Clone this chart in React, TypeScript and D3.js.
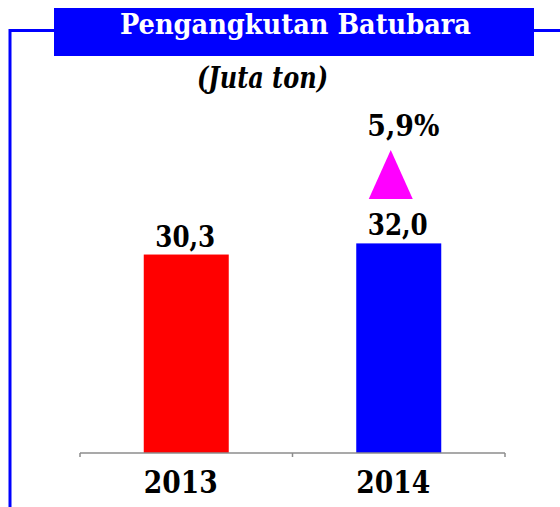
import React from "react";
import * as d3 from "d3";

// Chart data
const years = ["2013", "2014"];
const values = [30.3, 32.0];
const valueLabels = ["30,3", "32,0"];
const barColors = ["#ff0000", "#0000ff"];
const growthLabel = "5,9%";

const title = "Pengangkutan Batubara";
const unit = "(Juta ton)";

// Canvas size
const width = 560;
const height = 507;

// Plot area
const margin = { left: 80, right: 55, baseline: 453 };

const serif = "'DejaVu Serif', 'Liberation Serif', serif";

export default function App() {
    // x scale: one band per year
    const x = d3.scaleBand()
        .domain(years)
        .range([margin.left, width - margin.right]);

    // y scale: 0..35 maps onto the bar heights
    const y = d3.scaleLinear()
        .domain([0, 35])
        .range([margin.baseline, margin.baseline - 35 * 6.55]);

    const barWidth = x.bandwidth() * 0.4;
    const cx = (d: string) => (x(d) as number) + x.bandwidth() / 2;

    // triangle above the 2014 bar
    const last = years[years.length - 1];
    const triX = cx(last) - 8;
    const triBottom = 199;
    const triPath = d3.line()([
        [triX - 22, triBottom],
        [triX, triBottom - 49],
        [triX + 22, triBottom],
    ]) + "Z";

    return (
        <svg
            width={width}
            height={height}
            style={{ position: "absolute", top: 0, left: 0, background: "#fff" }}
        >
            {/* bracket lines */}
            <path
                d={`M10,${height} V30.5 H54`}
                fill="none"
                stroke="#0000ff"
                strokeWidth={3}
            />
            <path d={`M534,30.5 H${width}`} fill="none" stroke="#0000ff" strokeWidth={3} />

            {/* title box */}
            <rect x={54} y={8} width={480} height={48} fill="#0000ff" />
            <text
                x={295.5}
                y={33.5}
                textAnchor="middle"
                fill="#fff"
                fontFamily={serif}
                fontWeight="bold"
                fontSize={27.5}
                textLength={351}
                lengthAdjust="spacingAndGlyphs"
            >
                {title}
            </text>

            {/* unit */}
            <text
                x={262.5}
                y={88}
                textAnchor="middle"
                fill="#000"
                fontFamily={serif}
                fontWeight="bold"
                fontStyle="italic"
                fontSize={29}
                textLength={131}
                lengthAdjust="spacingAndGlyphs"
            >
                {unit}
            </text>

            {/* bars */}
            {years.map((d, i) => (
                <rect
                    key={d}
                    x={cx(d) - barWidth / 2}
                    y={y(values[i])}
                    width={barWidth}
                    height={y(0) - y(values[i])}
                    fill={barColors[i]}
                />
            ))}

            {/* value labels */}
            {years.map((d, i) => (
                <text
                    key={d}
                    x={cx(d) - 1}
                    y={y(values[i]) - 8}
                    textAnchor="middle"
                    fontFamily={serif}
                    fontWeight="bold"
                    fontSize={29}
                    textLength={60}
                    lengthAdjust="spacingAndGlyphs"
                >
                    {valueLabels[i]}
                </text>
            ))}

            {/* growth marker */}
            <path d={triPath} fill="#ff00ff" />
            <text
                x={triX + 12.6}
                y={136.3}
                textAnchor="middle"
                fontFamily={serif}
                fontWeight="bold"
                fontSize={29.5}
                textLength={72}
                lengthAdjust="spacingAndGlyphs"
            >
                {growthLabel}
            </text>

            {/* x axis */}
            <g stroke="#8c8c8c" strokeWidth={1.5} fill="none">
                <path
                    d={`M${margin.left},${margin.baseline} H${width - margin.right}`}
                />
                {[...years.map((d) => x(d) as number), width - margin.right].map((t) => (
                    <path key={t} d={`M${t},${margin.baseline} V${margin.baseline + 4}`} />
                ))}
            </g>
            {years.map((d) => (
                <text
                    key={d}
                    x={cx(d) - 5.5}
                    y={493}
                    textAnchor="middle"
                    fontFamily={serif}
                    fontWeight="bold"
                    fontSize={31.5}
                    textLength={74}
                    lengthAdjust="spacingAndGlyphs"
                >
                    {d}
                </text>
            ))}
        </svg>
    );
}
